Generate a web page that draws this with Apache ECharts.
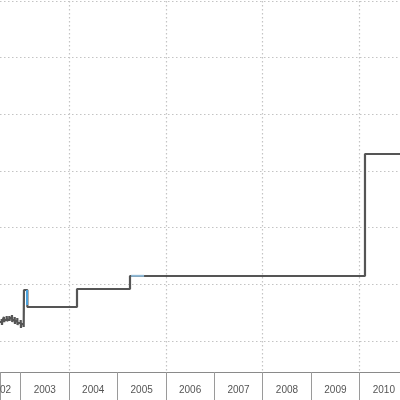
<!DOCTYPE html>
<html>
<head>
<meta charset="utf-8">
<script src="https://cdn.jsdelivr.net/npm/echarts@6/dist/echarts.min.js"></script>
<style>html,body{margin:0;padding:0;background:#fff}#c{width:400px;height:400px}</style>
</head>
<body>
<div id="c"></div>
<script>
// Step series (decimal year, value)
const mainSeries = [
  [2002.500, 1.335],
  [2002.610, 1.388], [2002.616, 1.282], [2002.622, 1.353],
  [2002.657, 1.424], [2002.663, 1.335], [2002.669, 1.371],
  [2002.713, 1.441], [2002.719, 1.353], [2002.725, 1.388],
  [2002.767, 1.441], [2002.773, 1.353], [2002.779, 1.406],
  [2002.822, 1.459], [2002.828, 1.335], [2002.834, 1.371],
  [2002.878, 1.424], [2002.884, 1.300], [2002.890, 1.353],
  [2002.932, 1.406], [2002.938, 1.282], [2002.944, 1.318],
  [2003.002, 1.371], [2003.008, 1.229], [2003.014, 1.300],
  [2003.064, 1.247], [2003.070, 1.900],
  [2003.140, 1.600],
  [2004.165, 1.918],
  [2005.259, 2.147],
  [2006.024, 2.182], [2006.030, 2.112], [2006.036, 2.147],
  [2006.353, 2.182], [2006.359, 2.112], [2006.365, 2.147],
  [2007.675, 2.165], [2007.681, 2.112], [2007.687, 2.147],
  [2008.046, 2.112], [2008.052, 2.147],
  [2008.108, 2.112], [2008.114, 2.147],
  [2008.170, 2.112], [2008.176, 2.147],
  [2008.232, 2.112], [2008.238, 2.147],
  [2008.294, 2.112], [2008.300, 2.147],
  [2008.356, 2.112], [2008.362, 2.147],
  [2010.111, 4.300],
  [2010.900, 4.300]
];
const blueSeriesA = [[2003.132, 1.900], [2003.132, 1.635]];
const blueSeriesB = [[2005.282, 2.150], [2005.550, 2.150]];
const yearTicks = [2003, 2004, 2005, 2006, 2007, 2008, 2009, 2010];

const xMin = 2002.575, xMax = 2010.834;
const chart = echarts.init(document.getElementById('c'), null, {renderer: 'canvas'});
chart.setOption({
  animation: false,
  backgroundColor: '#fff',
  grid: {left: 0, right: 0, top: 1, bottom: 28, containLabel: false, outerBoundsMode: 'none'},
  xAxis: [
    {
      type: 'value', position: 'bottom', min: xMin, max: xMax, splitNumber: 8,
      axisLine: {show: true, lineStyle: {color: '#8a8a8a', width: 1}},
      axisTick: {show: true, inside: false, length: 28, lineStyle: {color: '#9a9a9a', width: 1}},
      axisLabel: {show: false},
      splitLine: {show: false}
    },
    {
      type: 'value', position: 'bottom', min: xMin, max: xMax, splitNumber: 4,
      axisLine: {show: false}, axisTick: {show: false}, axisLabel: {show: false},
      splitLine: {show: true, showMinLine: false, showMaxLine: false,
        lineStyle: {color: '#c4c4c4', width: 1.2, type: [1.5, 2.5]}}
    },
    {
      type: 'value', position: 'bottom', min: xMin - 0.5, max: xMax - 0.5, splitNumber: 8,
      axisLine: {show: false}, axisTick: {show: false}, splitLine: {show: false},
      axisLabel: {
        show: true, margin: 13, showMinLabel: true, showMaxLabel: false,
        fontFamily: 'Liberation Sans', fontSize: 10, color: '#555',
        formatter: function (v) {
          const r = Math.round(v);
          return (yearTicks.indexOf(r) >= 0 || r === 2002) ? String(r) : '';
        }
      }
    }
  ],
  yAxis: {
    type: 'value', min: 0.453, max: 7, splitNumber: 6,
    axisLine: {show: false}, axisTick: {show: false}, axisLabel: {show: false},
    splitLine: {show: true, showMinLine: false,
      lineStyle: {color: '#c4c4c4', width: 1.2, type: [1.5, 2.5]}}
  },
  series: [
    {
      type: 'line', xAxisIndex: 0, step: 'end', data: mainSeries,
      showSymbol: false, symbol: 'none',
      lineStyle: {color: '#555', width: 2.2}
    },
    {
      type: 'line', xAxisIndex: 0, data: blueSeriesA,
      showSymbol: false, symbol: 'none',
      lineStyle: {color: '#4aa3df', width: 2}
    },
    {
      type: 'line', xAxisIndex: 0, data: blueSeriesB,
      showSymbol: false, symbol: 'none',
      lineStyle: {color: '#8fb9d6', width: 2}
    }
  ]
});
</script>
</body>
</html>
